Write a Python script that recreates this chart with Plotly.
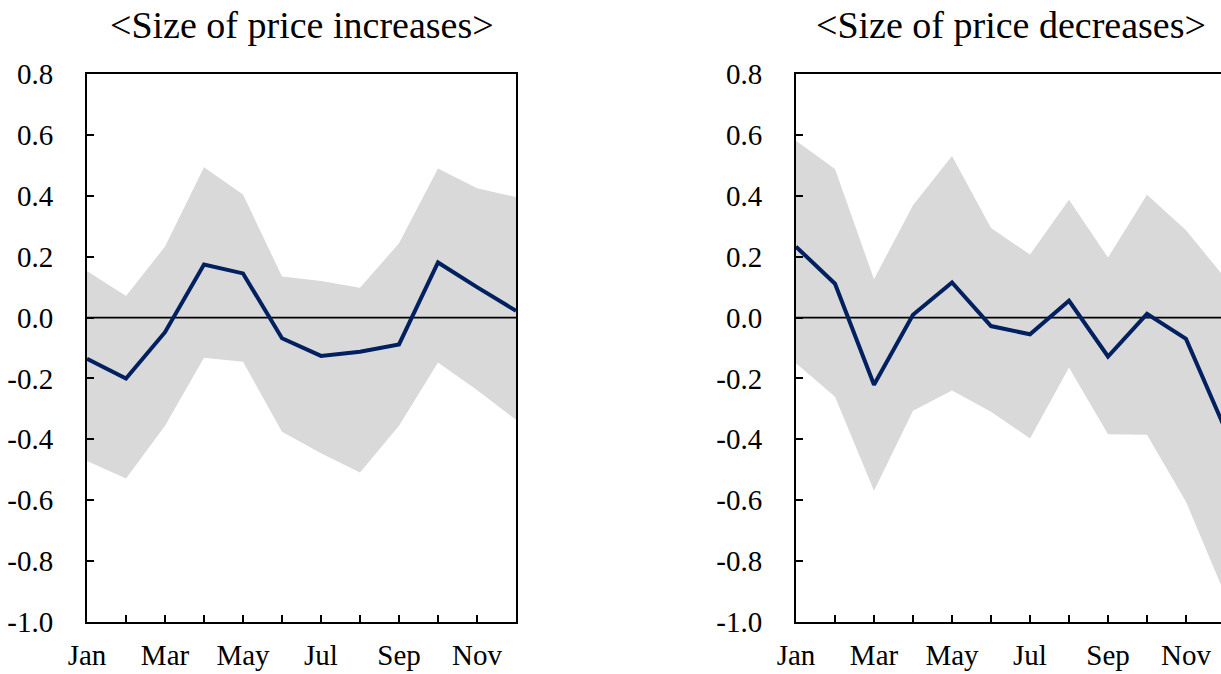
import plotly.graph_objects as go

months = ["Jan", "Feb", "Mar", "Apr", "May", "Jun", "Jul", "Aug", "Sep", "Oct", "Nov", "Dec"]
month_labels = ["Jan", "", "Mar", "", "May", "", "Jul", "", "Sep", "", "Nov", ""]

inc_mean = [-0.135, -0.200, -0.048, 0.174, 0.145, -0.068, -0.126, -0.112, -0.088, 0.181, 0.100, 0.022]
inc_upper = [0.153, 0.071, 0.233, 0.494, 0.404, 0.135, 0.120, 0.098, 0.244, 0.490, 0.425, 0.396]
inc_lower = [-0.471, -0.529, -0.355, -0.132, -0.145, -0.375, -0.446, -0.509, -0.355, -0.148, -0.238, -0.336]

dec_mean = [0.233, 0.111, -0.221, 0.009, 0.115, -0.028, -0.055, 0.055, -0.128, 0.012, -0.070, -0.365]
dec_upper = [0.581, 0.488, 0.126, 0.369, 0.531, 0.294, 0.207, 0.387, 0.197, 0.403, 0.287, 0.130]
dec_lower = [-0.150, -0.260, -0.569, -0.306, -0.240, -0.309, -0.397, -0.164, -0.383, -0.385, -0.605, -0.910]

titles = ["&lt;Size of price increases&gt;", "&lt;Size of price decreases&gt;"]
y_ticks = [0.8, 0.6, 0.4, 0.2, 0.0, -0.2, -0.4, -0.6, -0.8, -1.0]

W, H = 1221, 674
FONT = "Liberation Serif"
NAVY = "#002060"
GRAY = "#d9d9d9"

x_idx = list(range(len(months)))

fig = go.Figure()

panels = [
    (inc_mean, inc_upper, inc_lower, "x", "y"),
    (dec_mean, dec_upper, dec_lower, "x2", "y2"),
]
for mean, upper, lower, xa, ya in panels:
    fig.add_trace(go.Scatter(x=x_idx, y=lower, mode="lines", line=dict(width=0, color=GRAY),
                             hoverinfo="skip", showlegend=False, xaxis=xa, yaxis=ya))
    fig.add_trace(go.Scatter(x=x_idx, y=upper, mode="lines", line=dict(width=0, color=GRAY),
                             fill="tonexty", fillcolor=GRAY, hoverinfo="skip", showlegend=False,
                             xaxis=xa, yaxis=ya))
    fig.add_trace(go.Scatter(x=[x_idx[0], x_idx[-1]], y=[0, 0], mode="lines",
                             line=dict(width=1.8, color="black"), hoverinfo="skip",
                             showlegend=False, xaxis=xa, yaxis=ya))
    fig.add_trace(go.Scatter(x=x_idx, y=mean, mode="lines", line=dict(width=4, color=NAVY),
                             showlegend=False, xaxis=xa, yaxis=ya))

y_dom = [1 - 622 / H, 1 - 74 / H]
left_dom = [87 / W, 516 / W]
right_dom = [796 / W, 1.0]
step = (516 - 87) / 11
right_range = (1221 - 796) / step

axis_common = dict(
    showgrid=False, zeroline=False, showline=True, linecolor="black", linewidth=2,
    ticks="inside", ticklen=7, tickwidth=2, tickcolor="black", automargin=False,
    tickfont=dict(family=FONT, size=29, color="black"),
)

fig.update_layout(
    width=W, height=H,
    margin=dict(l=0, r=0, t=0, b=0),
    paper_bgcolor="white", plot_bgcolor="white",
    showlegend=False,
    xaxis=dict(domain=left_dom, range=[0, 11], tickvals=x_idx, ticktext=month_labels,
               mirror=True, anchor="y", ticklabelstandoff=6, **axis_common),
    yaxis=dict(domain=y_dom, range=[-1.0, 0.8], tickvals=y_ticks,
               ticktext=[f"{v:.1f}" for v in y_ticks], mirror=True, anchor="x",
               ticklabelstandoff=26, **axis_common),
    xaxis2=dict(domain=right_dom, range=[0, right_range], tickvals=x_idx, ticktext=month_labels,
                mirror=True, anchor="y2", ticklabelstandoff=6, **axis_common),
    yaxis2=dict(domain=y_dom, range=[-1.0, 0.8], tickvals=y_ticks,
                ticktext=[f"{v:.1f}" for v in y_ticks], mirror=False, anchor="x2",
                ticklabelstandoff=26, **axis_common),
    annotations=[
        dict(text=titles[0], xref="paper", yref="paper", x=(87 + 516) / 2 / W, y=1 - 25 / H,
             xanchor="center", yanchor="middle", showarrow=False,
             font=dict(family=FONT, size=38, color="black")),
        dict(text=titles[1], xref="paper", yref="paper", x=(796 + 1226) / 2 / W, y=1 - 25 / H,
             xanchor="center", yanchor="middle", showarrow=False,
             font=dict(family=FONT, size=38, color="black")),
    ],
)

fig.write_html("out.html", config={"displayModeBar": False},
               post_script="document.body.style.margin='0';document.body.style.overflow='hidden';")
